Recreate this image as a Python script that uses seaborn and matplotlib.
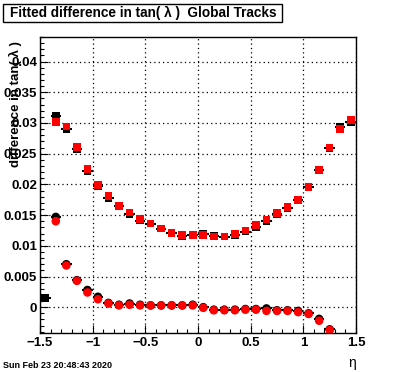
import matplotlib
matplotlib.use("Agg")
import matplotlib.pyplot as plt
import seaborn as sns
import pandas as pd
from matplotlib.patches import Rectangle
from matplotlib.ticker import MultipleLocator

# ---------------- data ----------------
eta_all = [-1.45, -1.35, -1.25, -1.15, -1.05, -0.95, -0.85, -0.75, -0.65, -0.55,
           -0.45, -0.35, -0.25, -0.15, -0.05, 0.05, 0.15, 0.25, 0.35, 0.45,
           0.55, 0.65, 0.75, 0.85, 0.95, 1.05, 1.15, 1.25, 1.35, 1.45]

black_sq = [0.0015, 0.0311, 0.0290, 0.0257, 0.0222, 0.0197, 0.0178, 0.0164, 0.0152, 0.0141,
            0.0136, 0.0128, 0.0121, 0.0116, 0.0118, 0.0120, 0.0116, 0.0115, 0.0118, 0.0123,
            0.0131, 0.0140, 0.0151, 0.0161, 0.0174, 0.0195, 0.0223, 0.0259, 0.0293, 0.0302]
black_sq_err = [0.0003, 0.0004, 0.0003, 0.0003, 0.0002, 0.0002, 0.0002, 0.0002, 0.0002, 0.0002,
                0.0002, 0.0002, 0.0002, 0.0002, 0.0002, 0.0002, 0.0002, 0.0002, 0.0002, 0.0002,
                0.0002, 0.0002, 0.0002, 0.0002, 0.0002, 0.0002, 0.0002, 0.0003, 0.0003, 0.0004]

eta_red_sq = eta_all[1:]
red_sq = [0.0302, 0.0294, 0.0261, 0.0225, 0.0199, 0.0181, 0.0165, 0.0154, 0.0144,
          0.0136, 0.0128, 0.0121, 0.0118, 0.0118, 0.0118, 0.0115, 0.0115, 0.0119, 0.0125,
          0.0134, 0.0143, 0.0153, 0.0163, 0.0175, 0.0196, 0.0223, 0.0260, 0.0290, 0.0305]

eta_circ = eta_all[1:28]
black_circ = [0.0147, 0.0070, 0.0044, 0.0028, 0.0017, 0.0007, 0.0004, 0.0006, 0.0004,
              0.0003, 0.0003, 0.0003, 0.0003, 0.0004, 0.0000, -0.0004, -0.0004, -0.0004, -0.0003,
              -0.0003, -0.0002, -0.0005, -0.0005, -0.0006, -0.0010, -0.0019, -0.0036]
black_circ_err = [0.0005, 0.0003, 0.0002, 0.0002, 0.0002, 0.0001, 0.0001, 0.0001, 0.0001,
                  0.0001, 0.0001, 0.0001, 0.0001, 0.0001, 0.0001, 0.0001, 0.0001, 0.0001, 0.0001,
                  0.0001, 0.0001, 0.0001, 0.0001, 0.0001, 0.0001, 0.0002, 0.0002]
red_circ = [0.0140, 0.0068, 0.0043, 0.0024, 0.0013, 0.0006, 0.0003, 0.0004, 0.0003,
            0.0003, 0.0003, 0.0003, 0.0003, 0.0003, -0.0001, -0.0005, -0.0005, -0.0005, -0.0004,
            -0.0004, -0.0006, -0.0006, -0.0006, -0.0008, -0.0011, -0.0022, -0.0037]

x_ticks = [-1.5, -1.0, -0.5, 0.0, 0.5, 1.0, 1.5]
x_tick_labels = ["\u22121.5", "\u22121", "\u22120.5", "0", "0.5", "1", "1.5"]
y_ticks = [0.0, 0.005, 0.01, 0.015, 0.02, 0.025, 0.03, 0.035, 0.04]
y_tick_labels = ["0", "0.005", "0.01", "0.015", "0.02", "0.025", "0.03", "0.035", "0.04"]

title = "Fitted difference in tan( \u03bb )  Global Tracks"
ylabel = "difference in tan( \u03bb )"
xlabel = "\u03b7"
datestamp = "Sun Feb 23 20:48:43 2020"

# ---------------- figure ----------------
sns.set_theme(style="white")
plt.rcParams['font.family'] = ['Liberation Sans', 'DejaVu Sans']

W, H = 396, 372
fig = plt.figure(figsize=(W / 100, H / 100), dpi=100)
ax = fig.add_axes([40 / W, 1 - 333 / H, 316 / W, 296 / H])

# error bars (black series)
ax.errorbar(eta_all, black_sq, xerr=0.05, yerr=black_sq_err, fmt='none',
            ecolor='black', elinewidth=1.5, capsize=0, zorder=2)
ax.errorbar(eta_circ, black_circ, xerr=0.05, yerr=black_circ_err, fmt='none',
            ecolor='black', elinewidth=1.5, capsize=0, zorder=2)

df_bs = pd.DataFrame({"eta": eta_all, "v": black_sq})
df_rs = pd.DataFrame({"eta": eta_red_sq, "v": red_sq})
df_bc = pd.DataFrame({"eta": eta_circ, "v": black_circ})
df_rc = pd.DataFrame({"eta": eta_circ, "v": red_circ})

sns.scatterplot(data=df_bs, x="eta", y="v", ax=ax, marker='s', s=30, color='black',
                edgecolor='none', linewidth=0, zorder=3)
sns.scatterplot(data=df_bc, x="eta", y="v", ax=ax, marker='o', s=38, color='black',
                edgecolor='none', linewidth=0, zorder=3)
sns.scatterplot(data=df_rs, x="eta", y="v", ax=ax, marker='s', s=30, color='#ff0000',
                edgecolor='none', linewidth=0, zorder=4)
sns.scatterplot(data=df_rc, x="eta", y="v", ax=ax, marker='o', s=38, color='#ff0000',
                edgecolor='none', linewidth=0, zorder=4)

ax.set_xlim(-1.5, 1.5)
ax.set_ylim(-0.0042, 0.044)
ax.set_xlabel("")
ax.set_ylabel("")

ax.set_xticks(x_ticks)
ax.set_xticklabels(x_tick_labels)
ax.set_yticks(y_ticks)
ax.set_yticklabels(y_tick_labels)
ax.xaxis.set_minor_locator(MultipleLocator(0.1))
ax.yaxis.set_minor_locator(MultipleLocator(0.001))

ax.tick_params(axis='both', which='major', direction='in', length=6, width=0.8,
               color='black', labelsize=9.5, labelcolor='black')
ax.tick_params(axis='both', which='minor', direction='in', length=3, width=0.8,
               color='black')
ax.tick_params(axis='x', which='both', bottom=True, top=False, pad=3)
ax.tick_params(axis='y', which='both', left=True, right=False, pad=2)
for lab in ax.get_xticklabels() + ax.get_yticklabels():
    lab.set_fontweight('bold')

ax.grid(True, which='major', color='black', linestyle=(0, (1, 2.5)), linewidth=0.9)
ax.set_axisbelow(True)
for sp in ax.spines.values():
    sp.set_color('black')
    sp.set_linewidth(1.0)
    sp.set_visible(True)

# title box
fig.patches.append(Rectangle((3 / W, 1 - 22 / H), 279 / W, 18 / H, transform=fig.transFigure,
                             facecolor='white', edgecolor='black', linewidth=1.0))
fig.text(10 / W, 1 - 13 / H, title, ha='left', va='center', fontsize=9.8,
         fontweight='bold', color='black')

# axis labels
fig.text(15 / W, 1 - 41 / H, ylabel, rotation=90, ha='center', va='top',
         fontsize=9.5, fontweight='bold', color='black')
fig.text(352 / W, 1 - 363 / H, xlabel, ha='center', va='center', fontsize=10,
         color='black')
fig.text(3 / W, 1 - 365 / H, datestamp, ha='left', va='center', fontsize=6.5,
         fontweight='bold', color='black')

fig.savefig("out.png", dpi=100)
